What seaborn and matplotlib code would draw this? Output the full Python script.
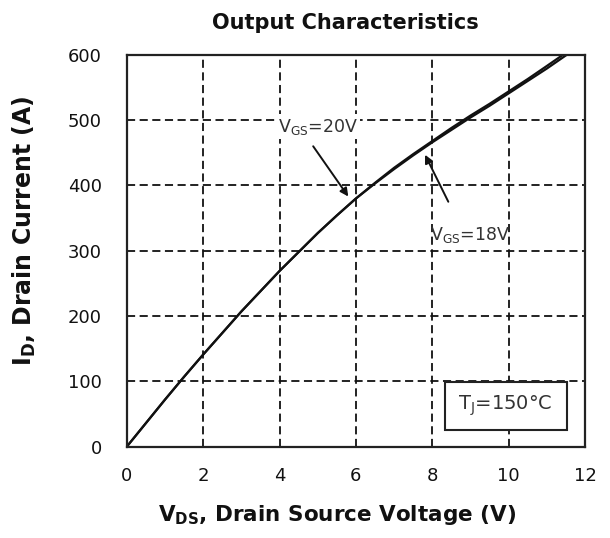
import matplotlib
matplotlib.use("Agg")
import matplotlib.pyplot as plt
from matplotlib.patches import Rectangle
import seaborn as sns
import pandas as pd

# Output characteristics at Tj = 150 °C
vds_20v = [0, 0.5, 1, 1.5, 2, 2.5, 3, 3.5, 4, 4.5, 5, 5.5, 6, 6.5, 7, 7.5,
           8, 8.5, 9, 9.5, 10, 10.5, 11, 11.42]
id_20v = [0, 36, 72, 107, 141, 174, 207, 238, 269, 298, 327, 354, 380, 404,
          427, 448, 468, 488, 507, 525, 544, 563, 583, 600]

vds_18v = [0, 0.5, 1, 1.5, 2, 2.5, 3, 3.5, 4, 4.5, 5, 5.5, 6, 6.5, 7, 7.5,
           8, 8.5, 9, 9.5, 10, 10.5, 11, 11.52]
id_18v = [0, 36, 72, 107, 141, 174, 207, 238, 269, 298, 327, 354, 380, 403,
          425, 446, 466, 485, 504, 522, 541, 560, 579, 600]

x_ticks = [0, 2, 4, 6, 8, 10, 12]
y_ticks = [0, 100, 200, 300, 400, 500, 600]

df = pd.concat([
    pd.DataFrame({"Vds": vds_20v, "Id": id_20v, "Vgs": "20V"}),
    pd.DataFrame({"Vds": vds_18v, "Id": id_18v, "Vgs": "18V"}),
])

sns.set_style("white")
plt.rcParams["font.family"] = ["DejaVu Sans"]
plt.rcParams["mathtext.fontset"] = "dejavusans"

fig = plt.figure(figsize=(6.1, 5.38), dpi=100)
ax = fig.add_axes([0.208, 0.170, 0.751, 0.728])

sns.lineplot(data=df, x="Vds", y="Id", hue="Vgs", palette=["#111111", "#111111"],
             legend=False, linewidth=1.6, ax=ax, sort=False)

ax.set_xlim(0, 12)
ax.set_ylim(0, 600)
ax.set_xticks(x_ticks)
ax.set_yticks(y_ticks)
ax.tick_params(axis="x", direction="inout", length=8, width=1.2,
               labelsize=13, colors="#111111", pad=11)
ax.tick_params(axis="y", direction="inout", length=8, width=1.2,
               labelsize=13, colors="#111111", pad=14)

dash = (0, (4.5, 2.5))
for v in x_ticks[1:-1]:
    ax.axvline(v, color="#111111", linestyle=dash, linewidth=1.3, zorder=0)
for v in y_ticks[1:-1]:
    ax.axhline(v, color="#111111", linestyle=dash, linewidth=1.3, zorder=0)

for s in ax.spines.values():
    s.set_color("#222222")
    s.set_linewidth(1.6)

ax.set_xlabel(r"$\mathbf{V_{DS}}$, Drain Source Voltage (V)", fontsize=15.5,
              fontweight="bold", color="#111111")
ax.xaxis.set_label_coords(0.459, -0.145)
ax.set_ylabel(r"$\mathbf{I_{D}}$, Drain Current (A)", fontsize=17,
              fontweight="bold", color="#111111")
ax.yaxis.set_label_coords(-0.195, 0.551)
fig.text(0.567, 0.958, "Output Characteristics", fontsize=15, fontweight="bold",
         ha="center", va="center", color="#111111")

txt_color = "#333333"
ax.text(3.95, 490, r"V$_{\rm GS}$=20V", fontsize=12.5, color=txt_color,
        va="center", ha="left",
        bbox=dict(boxstyle="square,pad=0.15", fc="white", ec="none"))
ax.annotate("", xy=(5.8, 383), xytext=(4.88, 460),
            arrowprops=dict(arrowstyle="-|>", color="#111111", lw=1.4,
                            shrinkA=0, shrinkB=0, mutation_scale=12))
ax.annotate("", xy=(7.81, 447), xytext=(8.42, 375),
            arrowprops=dict(arrowstyle="-|>", color="#111111", lw=1.4,
                            shrinkA=0, shrinkB=0, mutation_scale=12))
ax.text(7.95, 324, r"V$_{\rm GS}$=18V", fontsize=12.5, color=txt_color,
        va="center", ha="left")

ax.add_patch(Rectangle((8.33, 25.6), 3.19, 74.0, facecolor="white",
                       edgecolor="#222222", linewidth=1.5, zorder=3))
ax.text(9.92, 63, r"T$_{\rm J}$=150°C", fontsize=14, color=txt_color,
        va="center", ha="center", zorder=4)

fig.savefig("out.png", dpi=100)
